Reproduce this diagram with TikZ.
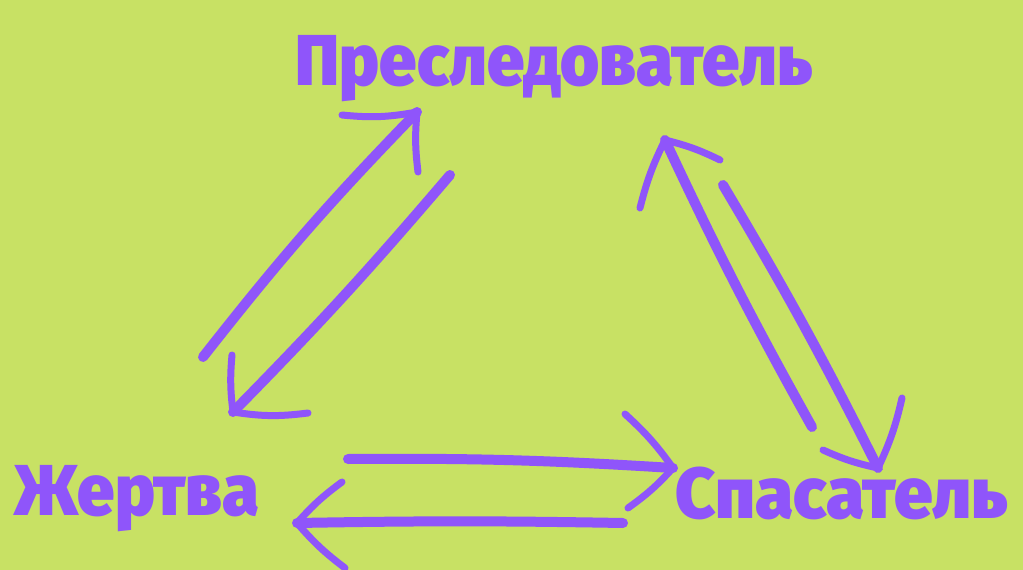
\documentclass[tikz,border=0pt]{standalone}
\usepackage{fontspec}
\newfontfamily\labelfont{Fira Sans Black}
\definecolor{lime}{RGB}{200,225,100}
\definecolor{violet}{RGB}{143,85,250}

\tikzset{
  brush/.style={violet, line width=10pt, line cap=round, line join=round},
  barb/.style={violet, line width=7pt, line cap=round},
  role/.style={violet, font=\labelfont\fontsize{72}{72}\selectfont, inner sep=0pt, anchor=base, xscale=0.93}
}

\begin{document}
\begin{tikzpicture}[x=1pt,y=-1pt]
\fill[lime] (0,0) rectangle (1023,570);
\useasboundingbox (0,0) rectangle (1023,570);

\node[role] (pers) at (554,85) {Преследователь};
\node[role] (vict) at (137,515) {Жертва};
\node[role, xscale=1.035] (resc) at (842,518) {Спасатель};

% Жертва <-> Преследователь
\coordinate (a1) at (203,357); \coordinate (a2) at (417,112);
\coordinate (b1) at (450,175); \coordinate (b2) at (233,412);
\draw[brush] (a1) to[bend left=3] (a2);
\draw[barb] (a2) to[bend left=8] ++(-75,3) (a2) to[bend right=6] ++(1,60);
\draw[brush] (b1) to[bend left=2] (b2);
\draw[barb] (b2) to[bend left=6] ++(-1,-57) (b2) to[bend right=8] ++(75,1);

% Преследователь <-> Спасатель
\coordinate (c1) at (812,427); \coordinate (c2) at (665,140);
\coordinate (d1) at (723,185); \coordinate (d2) at (878,468);
\draw[brush] (c1) to[bend left=2] (c2);
\draw[barb] (c2) to[bend left=6] ++(55,20) (c2) to[bend right=6] ++(-25,68);
\draw[brush] (d1) to[bend left=2] (d2);
\draw[barb] (d2) to[bend left=6] ++(-55,-18) (d2) to[bend right=6] ++(24,-70);

% Спасатель <-> Жертва
\coordinate (e1) at (348,459); \coordinate (e2) at (673,468);
\coordinate (f1) at (623,523); \coordinate (f2) at (297,523);
\draw[brush] (e1) to[bend left=2] (e2);
\draw[barb] (e2) to[bend right=6] ++(-48,-54) (e2) to[bend left=6] ++(-45,40);
\draw[brush] (f1) to[bend right=1] (f2);
\draw[barb] (f2) to[bend left=6] ++(45,-41) (f2) to[bend right=6] ++(48,45);
\end{tikzpicture}
\end{document}
